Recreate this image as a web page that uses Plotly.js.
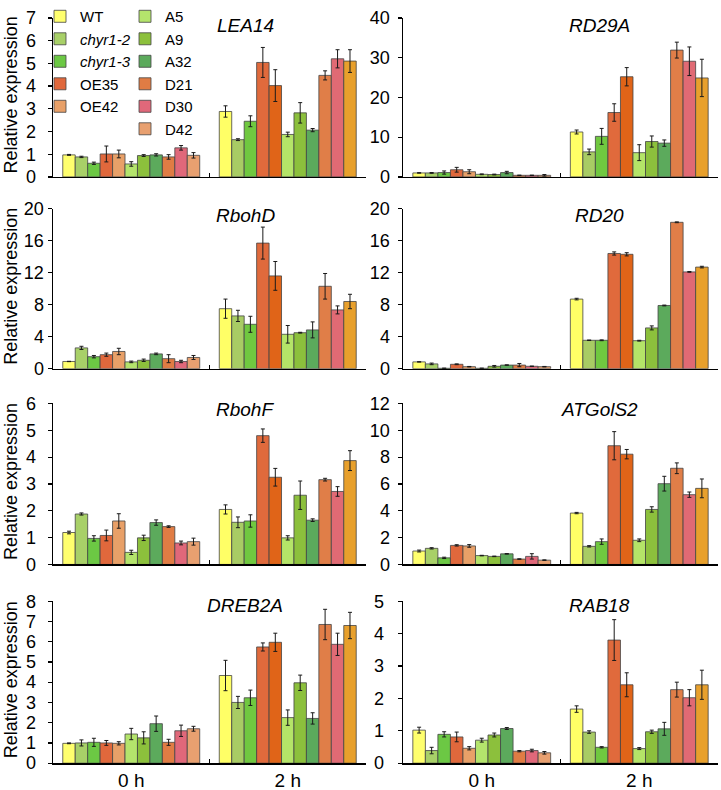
<!DOCTYPE html>
<html>
<head>
<meta charset="utf-8">
<script src="https://cdn.plot.ly/plotly-3.0.1.min.js"></script>
<style>html,body{margin:0;padding:0;background:#fff}#chart{width:721px;height:790px}</style>
</head>
<body>
<div id="chart"></div>
<script>
// ---- data ----
const timepoints = ['0 h', '2 h'];
const genotypes = ['WT', 'chyr1-2', 'chyr1-3', 'OE35', 'OE42', 'A5', 'A9', 'A32', 'D21', 'D30', 'D42'];
const genotypeLabels = ['WT', '<i>chyr1-2</i>', '<i>chyr1-3</i>', 'OE35', 'OE42', 'A5', 'A9', 'A32', 'D21', 'D30', 'D42'];
const geneNames = ['LEA14', 'RD29A', 'RbohD', 'RD20', 'RbohF', 'ATGolS2', 'DREB2A', 'RAB18'];

// values per genotype, order as in genotypes
const LEA14_0h   = [0.97, 0.88, 0.60, 1.01, 1.01, 0.57, 0.94, 0.97, 0.88, 1.28, 0.95];
const LEA14_0h_e = [0.02, 0.03, 0.05, 0.35, 0.17, 0.10, 0.04, 0.05, 0.10, 0.10, 0.12];
const LEA14_2h   = [2.88, 1.64, 2.45, 5.04, 4.02, 1.87, 2.82, 2.06, 4.47, 5.20, 5.10];
const LEA14_2h_e = [0.25, 0.04, 0.24, 0.66, 0.70, 0.10, 0.45, 0.07, 0.20, 0.40, 0.50];

const RD29A_0h   = [1.0, 1.0, 1.1, 1.8, 1.3, 0.65, 0.6, 1.1, 0.4, 0.4, 0.4];
const RD29A_0h_e = [0.05, 0.1, 0.4, 0.6, 0.5, 0.1, 0.1, 0.3, 0.05, 0.05, 0.2];
const RD29A_2h   = [11.3, 6.3, 10.2, 16.2, 25.2, 6.1, 8.9, 8.5, 31.9, 29.1, 24.9];
const RD29A_2h_e = [0.5, 0.7, 2.0, 2.2, 2.3, 2.0, 1.4, 0.8, 2.0, 3.6, 4.7];

const RbohD_0h   = [0.9, 2.6, 1.5, 1.75, 2.15, 0.85, 1.05, 1.85, 1.25, 0.9, 1.4];
const RbohD_0h_e = [0.02, 0.2, 0.15, 0.2, 0.4, 0.1, 0.15, 0.1, 0.5, 0.15, 0.25];
const RbohD_2h   = [7.5, 6.6, 5.55, 15.7, 11.6, 4.3, 4.5, 4.85, 10.3, 7.35, 8.4];
const RbohD_2h_e = [1.2, 0.7, 1.0, 2.0, 1.8, 1.1, 0.05, 1.0, 1.6, 0.5, 0.9];

const RD20_0h    = [0.85, 0.6, 0.05, 0.55, 0.25, 0.05, 0.3, 0.45, 0.45, 0.3, 0.25];
const RD20_0h_e  = [0.02, 0.1, 0.02, 0.05, 0.03, 0.02, 0.1, 0.03, 0.2, 0.03, 0.03];
const RD20_2h    = [8.7, 3.55, 3.55, 14.4, 14.3, 3.5, 5.1, 7.9, 18.3, 12.1, 12.7];
const RD20_2h_e  = [0.1, 0.03, 0.05, 0.2, 0.2, 0.05, 0.25, 0.05, 0.05, 0.05, 0.1];

const RbohF_0h   = [1.19, 1.88, 0.97, 1.08, 1.62, 0.45, 0.99, 1.56, 1.41, 0.80, 0.85];
const RbohF_0h_e = [0.05, 0.04, 0.10, 0.20, 0.27, 0.08, 0.10, 0.10, 0.03, 0.07, 0.13];
const RbohF_2h   = [2.05, 1.57, 1.62, 4.80, 3.25, 0.99, 2.58, 1.65, 3.16, 2.72, 3.87];
const RbohF_2h_e = [0.17, 0.20, 0.23, 0.25, 0.33, 0.08, 0.53, 0.05, 0.05, 0.18, 0.37];

const ATGolS2_0h   = [1.0, 1.2, 0.49, 1.42, 1.38, 0.66, 0.6, 0.79, 0.4, 0.6, 0.32];
const ATGolS2_0h_e = [0.07, 0.05, 0.05, 0.05, 0.1, 0.02, 0.02, 0.02, 0.02, 0.2, 0.02];
const ATGolS2_2h   = [3.83, 1.35, 1.7, 8.85, 8.22, 1.8, 4.1, 6.02, 7.17, 5.2, 5.67];
const ATGolS2_2h_e = [0.05, 0.05, 0.2, 1.05, 0.35, 0.1, 0.2, 0.55, 0.4, 0.2, 0.7];

const DREB2A_0h   = [0.98, 1.0, 1.03, 1.0, 0.98, 1.44, 1.25, 1.95, 1.03, 1.6, 1.7];
const DREB2A_0h_e = [0.02, 0.15, 0.2, 0.12, 0.08, 0.28, 0.3, 0.38, 0.15, 0.28, 0.12];
const DREB2A_2h   = [4.33, 3.0, 3.23, 5.74, 5.97, 2.25, 3.97, 2.21, 6.85, 5.87, 6.8];
const DREB2A_2h_e = [0.75, 0.3, 0.38, 0.2, 0.45, 0.38, 0.38, 0.28, 0.75, 0.55, 0.65];

const RAB18_0h   = [1.02, 0.39, 0.89, 0.81, 0.46, 0.71, 0.87, 1.07, 0.37, 0.39, 0.32];
const RAB18_0h_e = [0.09, 0.10, 0.08, 0.15, 0.05, 0.06, 0.06, 0.03, 0.02, 0.04, 0.04];
const RAB18_2h   = [1.67, 0.96, 0.49, 3.80, 2.42, 0.45, 0.97, 1.06, 2.27, 2.02, 2.42];
const RAB18_2h_e = [0.10, 0.04, 0.02, 0.63, 0.37, 0.03, 0.05, 0.20, 0.23, 0.25, 0.45];

const yMax  = [7, 40, 20, 20, 6, 12, 8, 5];
const yStep = [1, 10, 4, 4, 1, 2, 1, 1];

// ---- styling ----
const colors0h = ['#FFFF6E', '#A8D068', '#6CC844', '#E0683C', '#E8A068', '#B4E46C', '#8CC03C', '#5CAA5C', '#E07C44', '#E0687A', '#E8A070'];
const colors2h = ['#FFFF66', '#A8CC64', '#70C840', '#E06A3C', '#E06418', '#B4E468', '#8CC03C', '#5CAA5C', '#E07E48', '#E06A74', '#E8A02C'];

const panels = [
  [LEA14_0h, LEA14_2h, LEA14_0h_e, LEA14_2h_e],
  [RD29A_0h, RD29A_2h, RD29A_0h_e, RD29A_2h_e],
  [RbohD_0h, RbohD_2h, RbohD_0h_e, RbohD_2h_e],
  [RD20_0h, RD20_2h, RD20_0h_e, RD20_2h_e],
  [RbohF_0h, RbohF_2h, RbohF_0h_e, RbohF_2h_e],
  [ATGolS2_0h, ATGolS2_2h, ATGolS2_0h_e, ATGolS2_2h_e],
  [DREB2A_0h, DREB2A_2h, DREB2A_0h_e, DREB2A_2h_e],
  [RAB18_0h, RAB18_2h, RAB18_0h_e, RAB18_2h_e]
];

const W = 721, H = 790;
const FONT = 'Liberation Sans, Arial, sans-serif';
const colX = [[53, 366], [403, 718]];
const rowY = [[13, 173], [205, 366], [401, 563], [600, 763]];
const standoffs = [8, 4, 0, 4, 8, 4, 8, 10];

const traces = [];
const legendFont = {family: FONT, size: 15, color: '#000'};
const layout = {
  width: W, height: H,
  margin: {l: 0, r: 0, t: 0, b: 0},
  paper_bgcolor: '#fff', plot_bgcolor: '#fff',
  barmode: 'group', bargap: 0.125, bargroupgap: 0,
  font: {family: FONT, size: 16, color: '#000'},
  showlegend: true,
  legend: {x: 40 / W, y: 1 + 5 / H, xanchor: 'left', yanchor: 'top', bgcolor: 'rgba(0,0,0,0)',
           font: legendFont, tracegroupgap: 0, itemclick: false},
  legend2: {x: 125 / W, y: 1 + 5 / H, xanchor: 'left', yanchor: 'top', bgcolor: 'rgba(0,0,0,0)',
            font: legendFont, tracegroupgap: 0, itemclick: false},
  annotations: [],
  shapes: []
};

panels.forEach((p, i) => {
  const col = i % 2, row = Math.floor(i / 2);
  const n = i + 1;
  const sfx = n === 1 ? '' : String(n);
  genotypes.forEach((g, k) => {
    traces.push({
      type: 'bar',
      name: genotypeLabels[k],
      x: timepoints,
      y: [p[0][k], p[1][k]],
      error_y: {type: 'data', array: [p[2][k], p[3][k]], visible: true, color: '#1a1a1a', thickness: 1, width: 2},
      marker: {color: [colors0h[k], colors2h[k]], line: {color: '#444', width: 0.8}},
      xaxis: 'x' + sfx,
      yaxis: 'y' + sfx,
      showlegend: i === 0,
      legend: k < 5 ? 'legend' : 'legend2',
      hoverinfo: 'skip'
    });
  });
  const [x0, x1] = colX[col], [y0, y1] = rowY[row];
  layout['xaxis' + sfx] = {
    domain: [x0 / W, x1 / W], anchor: 'y' + sfx,
    type: 'category', range: [-0.5, 1.5],
    showline: true, linecolor: '#000', linewidth: 1.5,
    ticks: 'inside', tickson: 'boundaries', ticklen: 4, tickcolor: '#000', tickwidth: 1.2,
    showticklabels: row === 3, tickfont: {family: FONT, size: 19, color: '#000'},
    showgrid: false, zeroline: false, fixedrange: true
  };
  layout['yaxis' + sfx] = {
    domain: [1 - y1 / H, 1 - y0 / H], anchor: 'x' + sfx,
    range: [0, yMax[i]], dtick: yStep[i], tick0: 0,
    showline: true, linecolor: '#000', linewidth: 1.5,
    ticks: 'outside', ticklen: 4, tickcolor: '#000', tickwidth: 1.2,
    ticklabelstandoff: standoffs[i],
    tickfont: {family: FONT, size: 18, color: '#000'},
    showgrid: false, zeroline: false, fixedrange: true
  };
  // gene name
  layout.annotations.push({
    xref: 'paper', yref: 'paper',
    x: (col === 0 ? 245 : 599) / W, y: 1 - ([21, 212, 407, 604][row]) / H,
    text: '<i>' + geneNames[i] + '</i>', showarrow: false,
    font: {family: FONT, size: 19, color: '#000'}, xanchor: 'center', yanchor: 'middle'
  });
  if (col === 0) {
    layout.annotations.push({
      xref: 'paper', yref: 'paper',
      x: 11 / W, y: 1 - ((y0 + y1) / 2 - 2) / H,
      text: 'Relative expression', showarrow: false, textangle: -90,
      font: {family: FONT, size: 18, color: '#000'}, xanchor: 'center', yanchor: 'middle'
    });
  }
});

Plotly.newPlot('chart', traces, layout, {staticPlot: true, displayModeBar: false});
</script>
</body>
</html>
